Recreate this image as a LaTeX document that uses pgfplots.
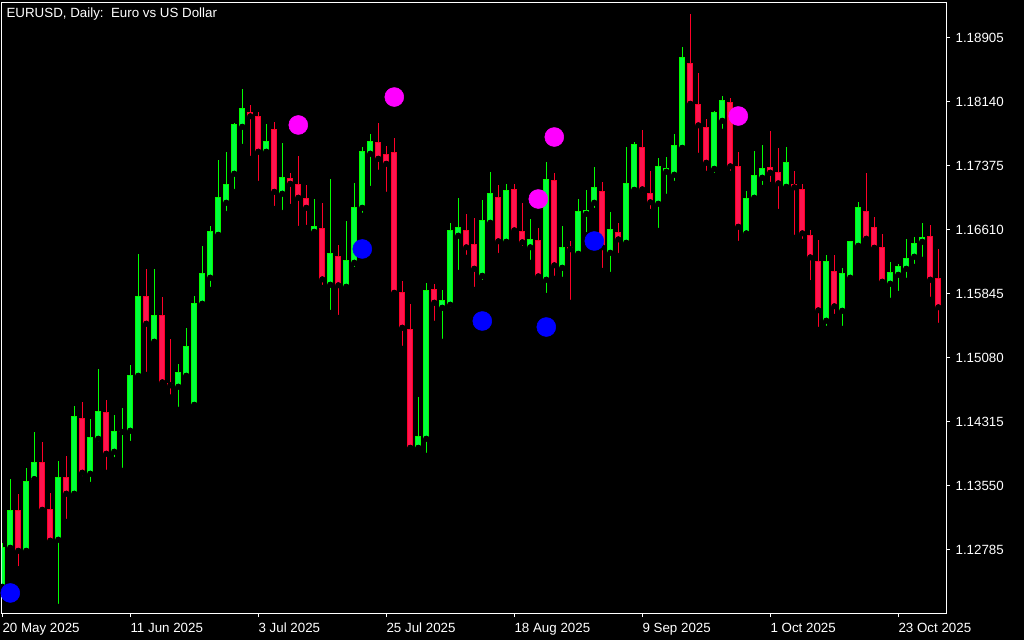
\documentclass[border=0pt]{standalone}
\usepackage{pgfplots}
\pgfplotsset{compat=1.18}
\usepackage{pgfplotstable}
\usepackage{fontspec}
\setmainfont{Liberation Sans}
\definecolor{bullfill}{RGB}{0,255,64}
\definecolor{bulledge}{RGB}{0,255,0}
\definecolor{bearfill}{RGB}{255,20,80}
\definecolor{bearedge}{RGB}{255,0,40}
\definecolor{dotblue}{RGB}{0,0,255}
\definecolor{dotmag}{RGB}{255,0,255}

% bullish candles (close >= open)
\pgfplotstableread{
i O H L C
0 1.12338 1.12860 1.12299 1.12809
1 1.12804 1.13625 1.12768 1.13243
3 1.12768 1.13757 1.12744 1.13590
4 1.13625 1.14187 1.13590 1.13817
7 1.12900 1.13841 1.12099 1.13649
9 1.13450 1.14498 1.13390 1.14378
11 1.13689 1.14343 1.13557 1.14127
12 1.14107 1.14940 1.14035 1.14438
14 1.13952 1.14390 1.13852 1.14199
15 1.14188 1.14474 1.13725 1.14197
16 1.14203 1.14988 1.14047 1.14857
17 1.14860 1.16315 1.14812 1.15801
19 1.15267 1.16135 1.15207 1.15574
22 1.14729 1.15000 1.14454 1.14904
23 1.14860 1.15430 1.14848 1.15215
24 1.14513 1.15813 1.14504 1.15729
25 1.15721 1.16410 1.15697 1.16076
26 1.16032 1.16649 1.15888 1.16578
27 1.16545 1.17438 1.16510 1.16996
28 1.16928 1.17534 1.16796 1.17151
29 1.17275 1.17881 1.17059 1.17857
30 1.17836 1.18287 1.17597 1.18048
33 1.17538 1.17869 1.17490 1.17665
35 1.17036 1.17642 1.16808 1.17235
39 1.16581 1.16972 1.16534 1.16638
41 1.15948 1.17211 1.15613 1.16323
43 1.15924 1.16709 1.15888 1.16239
44 1.16211 1.17163 1.16127 1.16873
45 1.16868 1.17594 1.16773 1.17534
46 1.17514 1.17749 1.17095 1.17665
52 1.13999 1.14606 1.13987 1.14139
53 1.14107 1.15968 1.13904 1.15873
55 1.15673 1.15884 1.15267 1.15753
56 1.15709 1.16685 1.15637 1.16590
57 1.16534 1.16984 1.16091 1.16626
60 1.16055 1.16960 1.15972 1.16721
61 1.16689 1.17295 1.16665 1.17032
63 1.16462 1.17151 1.16438 1.17068
66 1.16395 1.16733 1.16211 1.16490
68 1.16008 1.17414 1.15816 1.17211
70 1.16151 1.16649 1.16008 1.16398
72 1.16318 1.16972 1.16283 1.16817
73 1.16796 1.17080 1.16542 1.16829
74 1.16928 1.17355 1.16832 1.17104
76 1.16330 1.16817 1.16067 1.16602
78 1.16450 1.17594 1.16414 1.17163
79 1.17083 1.17654 1.17024 1.17618
82 1.16916 1.17462 1.16593 1.17355
83 1.17299 1.17474 1.17000 1.17339
84 1.17263 1.17749 1.17155 1.17606
85 1.17585 1.18789 1.17561 1.18658
89 1.17334 1.18024 1.17251 1.18012
90 1.17908 1.18203 1.17777 1.18144
93 1.16562 1.17068 1.16498 1.16984
94 1.16988 1.17546 1.16964 1.17259
95 1.17227 1.17618 1.17107 1.17331
98 1.17119 1.17594 1.17107 1.17414
103 1.15518 1.16303 1.15422 1.16231
105 1.15637 1.16147 1.15422 1.16076
106 1.16032 1.16476 1.16008 1.16470
107 1.16414 1.16936 1.16354 1.16865
111 1.15960 1.16219 1.15757 1.16088
112 1.16067 1.16195 1.15840 1.16171
113 1.16139 1.16494 1.15996 1.16255
114 1.16283 1.16518 1.16163 1.16446
115 1.16462 1.16685 1.16247 1.16506
}\bull

% bearish candles (close < open)
\pgfplotstableread{
i O H L C
2 1.13243 1.13446 1.12550 1.12768
5 1.13817 1.14068 1.13223 1.13258
6 1.13258 1.13458 1.12828 1.12888
8 1.13649 1.13900 1.13115 1.13450
10 1.14343 1.14546 1.13625 1.13701
13 1.14426 1.14570 1.13701 1.13928
18 1.15801 1.16135 1.14872 1.15482
20 1.15574 1.15797 1.14729 1.14781
21 1.14769 1.15299 1.14602 1.14745
31 1.18012 1.18096 1.17454 1.17961
32 1.17964 1.18012 1.17155 1.17538
34 1.17797 1.17893 1.16856 1.17059
36 1.17223 1.17283 1.16880 1.17155
37 1.17151 1.17486 1.16617 1.16988
38 1.16984 1.17140 1.16629 1.16868
40 1.16622 1.16924 1.15912 1.16012
42 1.16287 1.16422 1.15553 1.15941
47 1.17642 1.17881 1.17287 1.17454
48 1.17510 1.17606 1.17024 1.17394
49 1.17522 1.17701 1.15840 1.15852
50 1.15849 1.15992 1.15183 1.15434
51 1.15418 1.15717 1.13987 1.13999
54 1.15896 1.15956 1.15482 1.15733
58 1.16590 1.16793 1.16271 1.16395
59 1.16434 1.16745 1.15888 1.16139
62 1.16993 1.17140 1.16294 1.16467
64 1.17088 1.17151 1.16545 1.16598
65 1.16586 1.16924 1.16378 1.16455
67 1.16479 1.16626 1.15996 1.16048
69 1.17199 1.17283 1.16020 1.16180
71 1.16398 1.16470 1.15733 1.16371
75 1.17056 1.17175 1.16115 1.16395
77 1.16574 1.16685 1.16294 1.16490
80 1.17582 1.17797 1.17020 1.17088
81 1.17032 1.17303 1.16820 1.16933
86 1.18586 1.19184 1.18064 1.18111
87 1.18096 1.18478 1.17490 1.17853
88 1.17821 1.17928 1.17275 1.17406
91 1.18120 1.18179 1.17275 1.17363
92 1.17355 1.17534 1.16438 1.16641
96 1.17343 1.17785 1.17143 1.17287
97 1.17283 1.17582 1.16820 1.17160
99 1.17140 1.17307 1.16510 1.17112
100 1.17088 1.17151 1.16462 1.16562
101 1.16530 1.16602 1.15968 1.16275
102 1.16228 1.16482 1.15410 1.15642
104 1.16108 1.16303 1.15565 1.15690
108 1.16817 1.17283 1.16486 1.16498
109 1.16626 1.16757 1.16378 1.16390
110 1.16387 1.16554 1.15972 1.15984
116 1.16518 1.16661 1.15769 1.16008
117 1.16016 1.16375 1.15458 1.15678
}\bear

\pgfplotstableread{
x y
1 1.12263
45 1.16375
60 1.15514
68 1.15442
74 1.16470
}\bluedots

\pgfplotstableread{
x y
37 1.17857
49 1.18191
67 1.16972
69 1.17713
92 1.17964
}\magdots

\pgfplotsset{
  candlepart/.style n args={3}{only marks, mark=none, forget plot,
    error bars/.cd, y dir=plus, y explicit, error mark=none,
    error bar style={draw=#1, line width=#2, line cap=butt, shorten <=#3, shorten >=#3}},
}

\begin{document}
\begin{tikzpicture}
\path[fill=black, use as bounding box] (0,0) rectangle (768pt,480pt);
\begin{axis}[
  at={(1.5pt,20.25pt)}, anchor=south west,
  scale only axis, width=708pt, height=458.25pt,
  xmin=-0.0375, xmax=117.9625, ymin=1.120235, ymax=1.193269,
  axis line style={white, line width=0.75pt},
  tick style={white, line width=0.75pt},
  major tick length=3pt, tick align=outside,
  xtick pos=left, ytick pos=right, yticklabel pos=right,
  xtick={0,16,32,48,64,80,96,112},
  xticklabels={20 May 2025,11 Jun 2025,3 Jul 2025,25 Jul 2025,18 Aug 2025,9 Sep 2025,1 Oct 2025,23 Oct 2025},
  ytick={1.12785,1.1355,1.14315,1.1508,1.15845,1.1661,1.17375,1.1814,1.18905},
  yticklabels={1.12785,1.13550,1.14315,1.15080,1.15845,1.16610,1.17375,1.18140,1.18905},
  ticklabel style={font=\fontsize{10}{12}\selectfont, text=white, inner sep=0pt},
  xticklabel style={anchor=north west, yshift=-4.4pt},
  yticklabel style={anchor=west, xshift=4pt, yshift=-0.8pt},
]
% wicks
\addplot[candlepart={bulledge}{0.75pt}{0pt}] table[x=i, y=L, y error plus expr=\thisrow{H}-\thisrow{L}] {\bull};
\addplot[candlepart={bearedge}{0.75pt}{0pt}] table[x=i, y=L, y error plus expr=\thisrow{H}-\thisrow{L}] {\bear};
% body edges
\addplot[candlepart={bulledge}{4.5pt}{-0.375pt}] table[x=i, y=O, y error plus expr=\thisrow{C}-\thisrow{O}] {\bull};
\addplot[candlepart={bearedge}{4.5pt}{-0.375pt}] table[x=i, y=C, y error plus expr=\thisrow{O}-\thisrow{C}] {\bear};
% body fills
\addplot[candlepart={bullfill}{3pt}{0.375pt}] table[x=i, y=O, y error plus expr=\thisrow{C}-\thisrow{O}] {\bull};
\addplot[candlepart={bearfill}{3pt}{0.375pt}] table[x=i, y=C, y error plus expr=\thisrow{O}-\thisrow{C}] {\bear};
% signal dots
\addplot[only marks, mark=*, mark size=7.1pt, color=dotblue] table[x=x, y=y] {\bluedots};
\addplot[only marks, mark=*, mark size=7.1pt, color=dotmag] table[x=x, y=y] {\magdots};
\node[anchor=base west, inner sep=0pt, text=white, font=\fontsize{10}{12}\selectfont] at (rel axis cs:0.0046,0.9746) {EURUSD, Daily:\ \ Euro vs US Dollar};
\end{axis}
\end{tikzpicture}
\end{document}
